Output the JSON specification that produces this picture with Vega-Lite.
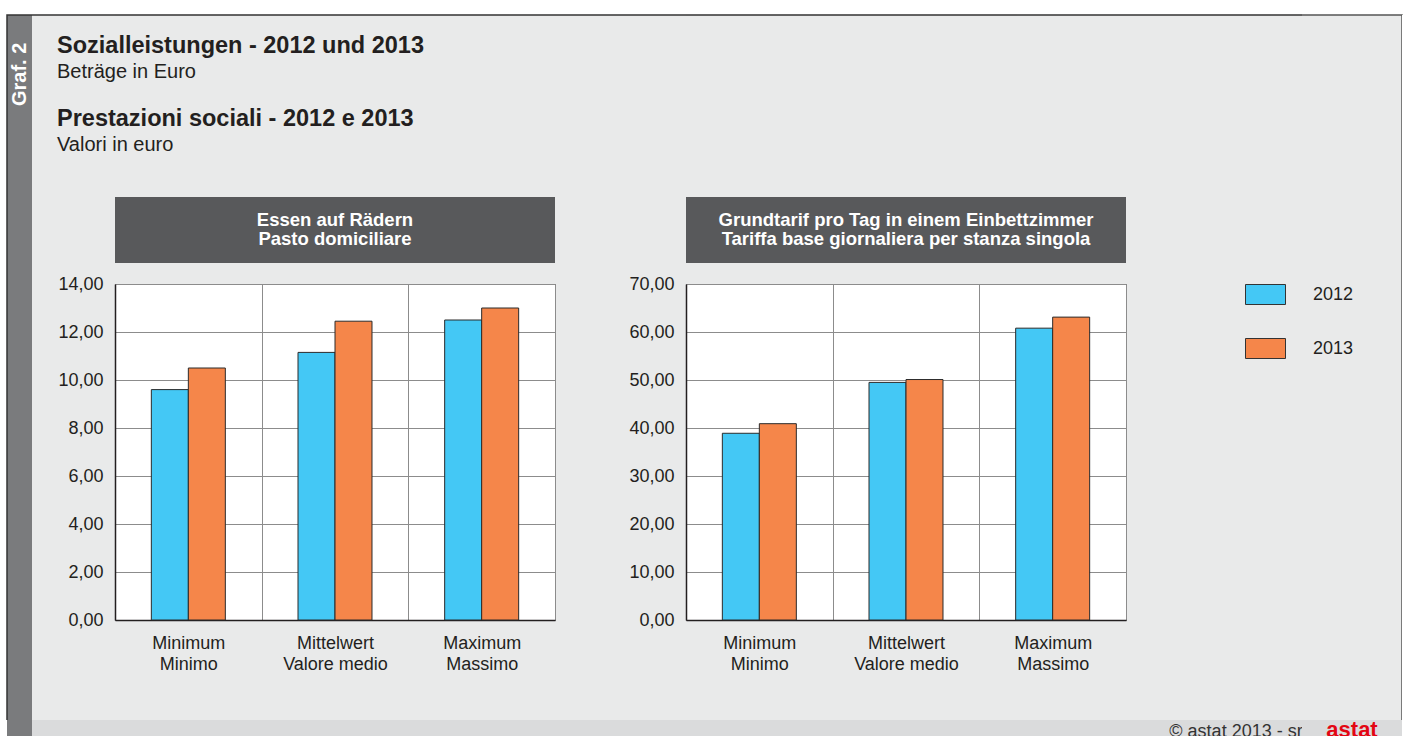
{
  "$schema": "https://vega.github.io/schema/vega-lite/v6.json",
  "background": "#e9eaea",
  "padding": 0,
  "columns": 8,
  "spacing": 0,
  "bounds": "flush",
  "align": "each",
  "resolve": {"scale": {"x": "independent", "y": "independent", "color": "shared"}},
  "concat": [
    {"width": 7, "height": 15, "data": {"values": []}, "mark": "point", "view": {"fill": "white"}},
    {"width": 25, "height": 15, "data": {"values": []}, "mark": "point", "view": {"fill": "white"}},
    {"width": 83, "height": 15, "data": {"values": []}, "mark": "point", "view": {"fill": "white"}},
    {"width": 571, "height": 15, "data": {"values": []}, "mark": "point", "view": {"fill": "white"}},
    {"width": 484, "height": 15, "data": {"values": []}, "mark": "point", "view": {"fill": "white"}},
    {"width": 132, "height": 15, "data": {"values": []}, "mark": "point", "view": {"fill": "white"}},
    {"width": 100, "height": 15, "data": {"values": []}, "mark": "point", "view": {"fill": "white"}},
    {"width": 4, "height": 15, "data": {"values": []}, "mark": "point", "view": {"fill": "white"}},

    {"width": 7, "height": 182, "data": {"values": []}, "mark": "point", "view": {"fill": "white"}},
    {"width": 25, "height": 182, "data": {"values": [{"t": "Graf. 2"}]},
     "mark": {"type": "text", "angle": 270, "align": "left", "baseline": "middle", "fontSize": 20, "fontWeight": "bold", "color": "white"},
     "encoding": {"text": {"field": "t"}},
     "view": {"fill": "#7a7b7d", "stroke": "#333333", "strokeWidth": 1.5, "strokeDash": [25, 207, 182]}},
    {"width": 83, "height": 182, "data": {"values": []}, "mark": "point",
     "view": {"stroke": "#333333", "strokeWidth": 1.5, "strokeDash": [83, 447]},
     "title": {"text": "Sozialleistungen - 2012 und 2013", "subtitle": "Beträge in Euro", "anchor": "start", "frame": "group", "orient": "top", "offset": -67, "dx": 25, "fontSize": 23.5, "fontWeight": "bold", "color": "#231f20", "subtitleFontSize": 20, "subtitleColor": "#231f20", "subtitlePadding": 4.5, "font": "Liberation Sans", "subtitleFont": "Liberation Sans"}},
    {"width": 571, "height": 182, "data": {"values": []}, "mark": "point",
     "view": {"stroke": "#333333", "strokeWidth": 1.5, "strokeDash": [571, 935]},
     "title": {"text": "Prestazioni sociali - 2012 e 2013", "subtitle": "Valori in euro", "anchor": "start", "frame": "group", "orient": "top", "offset": -140, "dx": -58, "fontSize": 23.5, "fontWeight": "bold", "color": "#231f20", "subtitleFontSize": 20, "subtitleColor": "#231f20", "subtitlePadding": 4.5, "font": "Liberation Sans", "subtitleFont": "Liberation Sans"}},
    {"width": 484, "height": 182, "data": {"values": []}, "mark": "point", "view": {"stroke": "#333333", "strokeWidth": 1.5, "strokeDash": [484, 848]}},
    {"width": 132, "height": 182, "data": {"values": []}, "mark": "point", "view": {"stroke": "#333333", "strokeWidth": 1.5, "strokeDash": [132, 496]}},
    {"width": 100, "height": 182, "data": {"values": []}, "mark": "point", "view": {"stroke": "#555555", "strokeWidth": 1.5, "strokeDash": [282, 282]}},
    {"width": 4, "height": 182, "data": {"values": []}, "mark": "point", "view": {"fill": "white"}},

    {"width": 7, "height": 87, "data": {"values": []}, "mark": "point", "view": {"fill": "white"}},
    {"width": 25, "height": 87, "data": {"values": []}, "mark": "point", "view": {"fill": "#7a7b7d", "stroke": "#333333", "strokeWidth": 1.5, "strokeDash": [0, 137, 87]}},
    {"width": 83, "height": 87, "data": {"values": []}, "mark": "point"},
    {"width": 440, "height": 66, "data": {"values": [{"t": "Essen auf Rädern\nPasto domiciliare"}]},
     "mark": {"type": "text", "lineBreak": "\n", "fontSize": 18.5, "lineHeight": 19, "fontWeight": "bold", "color": "white", "baseline": "line-bottom"},
     "encoding": {"text": {"field": "t"}},
     "view": {"fill": "#58595b"}},
    {"width": 440, "height": 66, "data": {"values": [{"t": "Grundtarif pro Tag in einem Einbettzimmer\nTariffa base giornaliera per stanza singola"}]},
     "mark": {"type": "text", "lineBreak": "\n", "fontSize": 18.5, "lineHeight": 19, "fontWeight": "bold", "color": "white", "baseline": "line-bottom"},
     "encoding": {"text": {"field": "t"}},
     "view": {"fill": "#58595b"}},
    {"width": 132, "height": 87, "data": {"values": []}, "mark": "point"},
    {"width": 100, "height": 87, "data": {"values": []}, "mark": "point", "view": {"stroke": "#555555", "strokeWidth": 1.5, "strokeDash": [0, 100, 87, 187]}},
    {"width": 4, "height": 87, "data": {"values": []}, "mark": "point", "view": {"fill": "white"}},

    {"width": 7, "height": 436, "data": {"values": []}, "mark": "point", "view": {"fill": "white"}},
    {"width": 25, "height": 436, "data": {"values": []}, "mark": "point", "view": {"fill": "#7a7b7d", "stroke": "#333333", "strokeWidth": 1.5, "strokeDash": [0, 486, 436]}},
    {"width": 83, "height": 436, "data": {"values": []}, "mark": "point"},
    {"width": 440, "height": 336,
     "data": {"values": [
       {"kategorie": "Minimum|Minimo", "jahr": "2012", "euro": 9.60},
       {"kategorie": "Minimum|Minimo", "jahr": "2013", "euro": 10.50},
       {"kategorie": "Mittelwert|Valore medio", "jahr": "2012", "euro": 11.15},
       {"kategorie": "Mittelwert|Valore medio", "jahr": "2013", "euro": 12.45},
       {"kategorie": "Maximum|Massimo", "jahr": "2012", "euro": 12.50},
       {"kategorie": "Maximum|Massimo", "jahr": "2013", "euro": 13.00}
     ]},
     "mark": {"type": "bar", "stroke": "#2b2b2b", "strokeWidth": 1},
     "encoding": {
       "x": {"field": "kategorie", "type": "nominal", "title": null,
             "sort": ["Minimum|Minimo", "Mittelwert|Valore medio", "Maximum|Massimo"],
             "scale": {"paddingInner": 0, "paddingOuter": 0},
             "axis": {"labelExpr": "split(datum.label, '|')", "labelAngle": 0, "labelFontSize": 18, "labelLineHeight": 21, "labelPadding": 14, "labelColor": "#231f20", "ticks": false, "grid": true, "tickBand": "extent", "gridColor": "#8c8c8c", "domainColor": "#231f20", "domainWidth": 1.5, "labelBaseline": "top"}},
       "xOffset": {"field": "jahr", "type": "nominal", "sort": ["2012", "2013"], "scale": {"paddingInner": 0, "paddingOuter": 0.982}},
       "y": {"field": "euro", "type": "quantitative", "title": null,
             "scale": {"domain": [0, 14], "nice": false},
             "axis": {"values": [0, 2, 4, 6, 8, 10, 12, 14], "format": ".2f", "labelFontSize": 18, "labelPadding": 12, "labelColor": "#231f20", "ticks": false, "gridColor": "#8c8c8c", "domainColor": "#231f20", "domainWidth": 1.5}},
       "color": {"field": "jahr", "type": "nominal",
                 "scale": {"domain": ["2012", "2013"], "range": ["#44c8f5", "#f5864a"]},
                 "legend": {"orient": "none", "legendX": 1245, "legendY": 274, "title": null, "symbolType": "M-1,-0.5H1V0.5H-1Z", "symbolSize": 1600, "symbolStrokeColor": "#333333", "symbolStrokeWidth": 1, "symbolOpacity": 1, "labelFontSize": 18, "labelColor": "#231f20", "labelOffset": 27, "rowPadding": 21, "padding": 0}}
     },
     "view": {"fill": "white", "stroke": "#555555", "strokeWidth": 1}},
    {"width": 440, "height": 336,
     "data": {"values": [
       {"kategorie": "Minimum|Minimo", "jahr": "2012", "euro": 38.90},
       {"kategorie": "Minimum|Minimo", "jahr": "2013", "euro": 40.90},
       {"kategorie": "Mittelwert|Valore medio", "jahr": "2012", "euro": 49.50},
       {"kategorie": "Mittelwert|Valore medio", "jahr": "2013", "euro": 50.10},
       {"kategorie": "Maximum|Massimo", "jahr": "2012", "euro": 60.80},
       {"kategorie": "Maximum|Massimo", "jahr": "2013", "euro": 63.10}
     ]},
     "mark": {"type": "bar", "stroke": "#2b2b2b", "strokeWidth": 1},
     "encoding": {
       "x": {"field": "kategorie", "type": "nominal", "title": null,
             "sort": ["Minimum|Minimo", "Mittelwert|Valore medio", "Maximum|Massimo"],
             "scale": {"paddingInner": 0, "paddingOuter": 0},
             "axis": {"labelExpr": "split(datum.label, '|')", "labelAngle": 0, "labelFontSize": 18, "labelLineHeight": 21, "labelPadding": 14, "labelColor": "#231f20", "ticks": false, "grid": true, "tickBand": "extent", "gridColor": "#8c8c8c", "domainColor": "#231f20", "domainWidth": 1.5, "labelBaseline": "top"}},
       "xOffset": {"field": "jahr", "type": "nominal", "sort": ["2012", "2013"], "scale": {"paddingInner": 0, "paddingOuter": 0.982}},
       "y": {"field": "euro", "type": "quantitative", "title": null,
             "scale": {"domain": [0, 70], "nice": false},
             "axis": {"values": [0, 10, 20, 30, 40, 50, 60, 70], "format": ".2f", "labelFontSize": 18, "labelPadding": 12, "labelColor": "#231f20", "ticks": false, "gridColor": "#8c8c8c", "domainColor": "#231f20", "domainWidth": 1.5}},
       "color": {"field": "jahr", "type": "nominal",
                 "scale": {"domain": ["2012", "2013"], "range": ["#44c8f5", "#f5864a"]},
                 "legend": {"orient": "none", "legendX": 1245, "legendY": 274, "title": null, "symbolType": "M-1,-0.5H1V0.5H-1Z", "symbolSize": 1600, "symbolStrokeColor": "#333333", "symbolStrokeWidth": 1, "symbolOpacity": 1, "labelFontSize": 18, "labelColor": "#231f20", "labelOffset": 27, "rowPadding": 21, "padding": 0}}
     },
     "view": {"fill": "white", "stroke": "#555555", "strokeWidth": 1}},
    {"width": 132, "height": 436, "data": {"values": []}, "mark": "point"},
    {"width": 100, "height": 436, "data": {"values": []}, "mark": "point", "view": {"stroke": "#555555", "strokeWidth": 1.5, "strokeDash": [0, 100, 436, 536]}},
    {"width": 4, "height": 436, "data": {"values": []}, "mark": "point", "view": {"fill": "white"}},

    {"width": 7, "height": 16, "data": {"values": []}, "mark": "point", "view": {"fill": "white"}},
    {"width": 25, "height": 16, "data": {"values": []}, "mark": "point", "view": {"fill": "#7a7b7d"}},
    {"width": 83, "height": 16, "data": {"values": []}, "mark": "point", "view": {"fill": "#dadbdc"}},
    {"width": 571, "height": 16, "data": {"values": []}, "mark": "point", "view": {"fill": "#dadbdc"}},
    {"width": 484, "height": 16, "data": {"values": []}, "mark": "point", "view": {"fill": "#dadbdc"}},
    {"width": 132, "height": 16, "data": {"values": [{"t": "© astat 2013 - sr"}]},
     "mark": {"type": "text", "fontSize": 18, "color": "#333333", "baseline": "line-top", "lineHeight": 7.6},
     "encoding": {"text": {"field": "t"}},
     "view": {"fill": "#dadbdc"}},
    {"width": 100, "height": 16, "data": {"values": [{"t": "astat"}]},
     "mark": {"type": "text", "fontSize": 22, "fontWeight": "bold", "color": "#e30613", "baseline": "line-top", "lineHeight": 6.2},
     "encoding": {"text": {"field": "t"}},
     "view": {"fill": "#dadbdc"}},
    {"width": 4, "height": 16, "data": {"values": []}, "mark": "point", "view": {"fill": "white"}}
  ],
  "config": {
    "font": "Liberation Sans",
    "view": {"stroke": null},
    "locale": {"number": {"decimal": ",", "thousands": ".", "grouping": [3], "currency": ["", " €"]}},
    "axis": {"labelFont": "Liberation Sans"},
    "legend": {"labelFont": "Liberation Sans"}
  }
}
